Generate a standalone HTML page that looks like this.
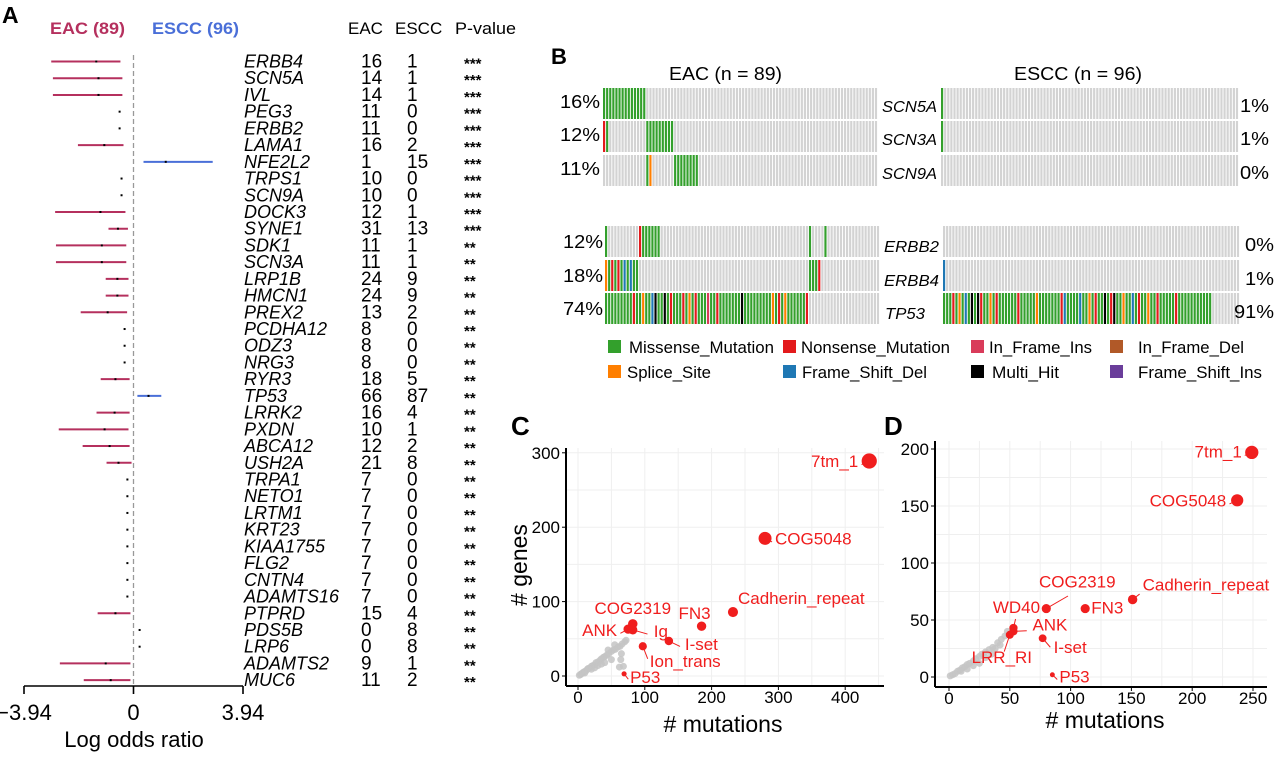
<!DOCTYPE html>
<html><head><meta charset="utf-8"><style>
html,body{margin:0;padding:0;background:#fff;}
svg{display:block;font-family:"Liberation Sans",sans-serif;}
</style></head><body>
<svg id="fig" width="1280" height="773" viewBox="0 0 1280 773" xmlns="http://www.w3.org/2000/svg">
<g id="pa">
<text x="2" y="23" font-size="23" font-weight="bold">A</text>
<text x="50" y="34" font-size="17" font-weight="bold" fill="#b5305e" textLength="75" lengthAdjust="spacingAndGlyphs">EAC (89)</text>
<text x="152" y="34" font-size="17" font-weight="bold" fill="#4a6fd8" textLength="87" lengthAdjust="spacingAndGlyphs">ESCC (96)</text>
<text x="348" y="34" font-size="17">EAC</text>
<text x="395" y="34" font-size="17">ESCC</text>
<text x="455" y="34" font-size="17" textLength="61" lengthAdjust="spacingAndGlyphs">P-value</text>
<line x1="133.5" y1="55" x2="133.5" y2="686" stroke="#999" stroke-width="1.3" stroke-dasharray="5,3"/>
<line x1="24" y1="686" x2="243" y2="686" stroke="#000" stroke-width="1.6"/>
<text x="134" y="747" font-size="22" text-anchor="middle">Log odds ratio</text>
</g>
<g id="pb">
<text x="551" y="64" font-size="22" font-weight="bold">B</text>
<text x="669" y="80" font-size="18" textLength="113" lengthAdjust="spacingAndGlyphs">EAC (n = 89)</text>
<text x="1014" y="80" font-size="18" textLength="128" lengthAdjust="spacingAndGlyphs">ESCC (n = 96)</text>
</g>
<g id="pc">
<text x="511" y="435" font-size="26" font-weight="bold">C</text>
<text x="723" y="732" font-size="23" text-anchor="middle"># mutations</text>
<text x="527" y="565" font-size="23" text-anchor="middle" transform="rotate(-90 527 565)"># genes</text>
</g>
<g id="pd">
<text x="884" y="435" font-size="26" font-weight="bold">D</text>
<text x="1105" y="728" font-size="23" text-anchor="middle"># mutations</text>
</g>
</svg>
<script>
var NS="http://www.w3.org/2000/svg";
function mk(tag,attrs,parent,txt){var e=document.createElementNS(NS,tag);for(var k in attrs)e.setAttribute(k,attrs[k]);if(txt!==undefined)e.textContent=txt;parent.appendChild(e);return e;}

/* ---------- Panel A data ---------- */
var genes=["ERBB4","SCN5A","IVL","PEG3","ERBB2","LAMA1","NFE2L2","TRPS1","SCN9A","DOCK3","SYNE1","SDK1","SCN3A","LRP1B","HMCN1","PREX2","PCDHA12","ODZ3","NRG3","RYR3","TP53","LRRK2","PXDN","ABCA12","USH2A","TRPA1","NETO1","LRTM1","KRT23","KIAA1755","FLG2","CNTN4","ADAMTS16","PTPRD","PDS5B","LRP6","ADAMTS2","MUC6"];
var eacCounts=[16,14,14,11,11,16,1,10,10,12,31,11,11,24,24,13,8,8,8,18,66,16,10,12,21,7,7,7,7,7,7,7,7,15,0,0,9,11];
var esccCounts=[1,1,1,0,0,2,15,0,0,1,13,1,1,9,9,2,0,0,0,5,87,4,1,2,8,0,0,0,0,0,0,0,0,4,8,8,1,2];
var pStars=["***","***","***","***","***","***","***","***","***","***","***","**","**","**","**","**","**","**","**","**","**","**","**","**","**","**","**","**","**","**","**","**","**","**","**","**","**","**"];
var logOR=[-1.34,-1.26,-1.26,-0.5,-0.5,-1.05,1.16,-0.43,-0.43,-1.19,-0.56,-1.14,-1.14,-0.58,-0.58,-0.93,-0.32,-0.32,-0.32,-0.65,0.54,-0.68,-1.04,-0.86,-0.54,-0.22,-0.22,-0.22,-0.22,-0.22,-0.22,-0.22,-0.22,-0.65,0.22,0.22,-1.0,-0.82];
var ciLow=[-2.96,-2.9,-2.9,-0.5,-0.5,-2.0,0.36,-0.43,-0.43,-2.82,-0.9,-2.79,-2.79,-1.0,-1.0,-1.9,-0.32,-0.32,-0.32,-1.18,0.14,-1.33,-2.69,-1.83,-0.97,-0.22,-0.22,-0.22,-0.22,-0.22,-0.22,-0.22,-0.22,-1.29,0.22,0.22,-2.65,-1.79];
var ciHigh=[-0.47,-0.4,-0.4,-0.5,-0.5,-0.36,2.85,-0.43,-0.43,-0.29,-0.2,-0.26,-0.26,-0.18,-0.18,-0.23,-0.32,-0.32,-0.32,-0.14,1.0,-0.14,-0.18,-0.14,-0.07,-0.22,-0.22,-0.22,-0.22,-0.22,-0.22,-0.22,-0.22,-0.11,0.22,0.22,-0.11,-0.11];
var xTicksA=[-3.94,0,3.94];
var xTickLabelsA=["\u22123.94","0","3.94"];

var pa=document.getElementById("pa");
function ax(v){return 133.5+v*(109.5/3.94);}
function ay(i){return 61.5+i*16.72;}
xTicksA.forEach(function(t,i){
  var tk=mk("line",{x1:ax(t),y1:686,x2:ax(t),y2:694,stroke:"#000","stroke-width":1.6},pa);
  
  
  var tl=mk("text",{x:ax(t),y:720,"font-size":22,"text-anchor":"middle"},pa,xTickLabelsA[i]);
  
  
});
genes.forEach(function(g,i){
  var y=ay(i);
  var col=logOR[i]>0?"#4a6fd8":"#b5305e";
  if(ciHigh[i]-ciLow[i]>0.01){
    var ln=mk("line",{x1:ax(ciLow[i]),y1:y,x2:ax(ciHigh[i]),y2:y,stroke:col,"stroke-width":2},pa);
    
    
  }
  var pt=mk("rect",{x:ax(logOR[i])-1,y:y-1,width:2,height:2,fill:"#000"},pa);
  
  
  var gt=mk("text",{x:244,y:y+6,"font-size":18,"font-style":"italic"},pa,g);
  
  
  var e=mk("text",{x:361,y:y+6,"font-size":19},pa,String(eacCounts[i]));
  
  
  var s=mk("text",{x:407,y:y+6,"font-size":19},pa,String(esccCounts[i]));
  
  
  var p=mk("text",{x:464,y:y+7,"font-size":15,"font-weight":"bold"},pa,pStars[i]);
  
  
});

/* ---------- Panel B data ---------- */
var colors={G:"#33a02c",R:"#e31a1c",P:"#d93b5a",B:"#b15928",O:"#ff7f00",F:"#1f78b4",K:"#000000",V:"#6a3d9a"};
var legendNames=["Missense_Mutation","Nonsense_Mutation","In_Frame_Ins","In_Frame_Del","Splice_Site","Frame_Shift_Del","Multi_Hit","Frame_Shift_Ins"];
var legendCodes=["G","R","P","B","O","F","K","V"];
var topGenes=["SCN5A","SCN3A","SCN9A"];
var topEacPct=["16%","12%","11%"];
var topEsccPct=["1%","1%","0%"];
var botGenes=["ERBB2","ERBB4","TP53"];
var botEacPct=["12%","18%","74%"];
var botEsccPct=["0%","1%","91%"];
var eacSCN5A="GGGGGGGGGGGGGG";
var eacSCN3A="RG............GGGGGGGGG";
var eacSCN9A="..............GO.......GGGGGGGG";
var eacERBB2="G..........RGGGGGG................................................G....G";
var eacERBB4="OGRGRGFGFGG.......................................................GGGR";
var eacTP53="GGGGGGGGGRGGOGGFKGGKGRGGGRGOGRGGGPGGRGGGGGGGKGGGGGGGGGOGRGOGGGGGGR";
var esccSCN5A="G";
var esccSCN3A="G";
var esccSCN9A="";
var esccERBB2="";
var esccERBB4="F";
var esccTP53="GGGRGOGFGKGKRGGOGRGGGGGGRGGGGGOGGGGGGGRFGGGGFGGOGRGGKGRKGGOGGFGRGGOGGRGGGGGRGGGGGGGGGGG";
var pb=document.getElementById("pb");
function drawTrack(x0,y0,w,h,n,codes,name){
  var cw=w/n;
  for(var c=0;c<n;c++){
    var ch=codes.charAt(c);
    var r=mk("rect",{x:(x0+c*cw).toFixed(2),y:y0,width:(cw*0.7).toFixed(2),height:h,fill:(ch&&colors[ch])?colors[ch]:"#d3d3d3"},pb);
    
    
  }
}
var topY=[88,121,155], botY=[226,260,293], rowH=31;
var topEac=[eacSCN5A,eacSCN3A,eacSCN9A], topEscc=[esccSCN5A,esccSCN3A,esccSCN9A];
var botEac=[eacERBB2,eacERBB4,eacTP53], botEscc=[esccERBB2,esccERBB4,esccTP53];
for(var i=0;i<3;i++){
  drawTrack(603,topY[i],275,rowH,89,topEac[i],'eac-'+topGenes[i].toLowerCase());
  drawTrack(941,topY[i],298,rowH,96,topEscc[i],'escc-'+topGenes[i].toLowerCase());
  drawTrack(605,botY[i],275,rowH,89,botEac[i],'eac-'+botGenes[i].toLowerCase());
  drawTrack(943,botY[i],297,rowH,96,botEscc[i],'escc-'+botGenes[i].toLowerCase());
  var a=mk("text",{x:600,y:topY[i]+20,"font-size":18,"text-anchor":"end",textLength:40,lengthAdjust:"spacingAndGlyphs"},pb,topEacPct[i]);
  
  
  var b=mk("text",{x:1269,y:topY[i]+24,"font-size":18,"text-anchor":"end",textLength:29,lengthAdjust:"spacingAndGlyphs"},pb,topEsccPct[i]);
  
  
  var c=mk("text",{x:882,y:topY[i]+24,"font-size":16,"font-style":"italic",textLength:55,lengthAdjust:"spacingAndGlyphs"},pb,topGenes[i]);
  
  
  var d=mk("text",{x:603,y:botY[i]+22,"font-size":18,"text-anchor":"end",textLength:40,lengthAdjust:"spacingAndGlyphs"},pb,botEacPct[i]);
  
  
  var e2=mk("text",{x:1274,y:botY[i]+25,"font-size":18,"text-anchor":"end",textLength:i==2?40:29,lengthAdjust:"spacingAndGlyphs"},pb,botEsccPct[i]);
  
  
  var f=mk("text",{x:i==2?885:884,y:botY[i]+26,"font-size":16,"font-style":"italic",textLength:i==2?40:55,lengthAdjust:"spacingAndGlyphs"},pb,botGenes[i]);
  
  
}
var legX=[608,783,971,1110,608,783,971,1110], legTX=[629,801,989,1138,627,802,992,1138];
var legW=[145,149,103,106,84,125,67,124];
legendNames.forEach(function(nm,i){
  var y=i<4?340:365;
  var sq=mk("rect",{x:legX[i],y:y,width:13,height:13,fill:colors[legendCodes[i]]},pb);
  
  
  var t=mk("text",{x:legTX[i],y:y+13,"font-size":17,textLength:legW[i],lengthAdjust:"spacingAndGlyphs"},pb,nm);
  
  
});

/* ---------- Panel C data ---------- */
var cLabels=["7tm_1","COG5048","Cadherin_repeat","FN3","COG2319","ANK","Ig","I-set","Ion_trans","P53"];
var cMut=[436,280,232,185,82,75,82,136,97,69];
var cGenes=[289,185,86,67,70,63,62,47,40,3];
var cLab=[[-11,6,"end"],[10,6,"start"],[5,-8,"start"],[-7,-7,"middle"],[0,-10,"middle"],[-11,7,"end"],[21,7,"start"],[16,9,"start"],[7,21,"start"],[6,9,"start"]];
var cGrayMut=[2,4,5,7,8,10,12,14,15,18,20,22,25,27,30,33,35,38,40,43,46,50,53,56,60,63,66,70,72,65,50,40,30,20,10,64,62,45,55,68,35,25];
var cGrayGenes=[1,2,3,4,5,6,7,9,10,11,13,14,15,18,19,21,23,25,26,28,30,33,35,36,39,40,43,46,48,30,22,18,14,9,4,22,12,35,42,13,16,11];
var cXTicks=[0,100,200,300,400], cYTicks=[0,100,200,300];

/* ---------- Panel D data ---------- */
var dLabels=["7tm_1","COG5048","Cadherin_repeat","FN3","COG2319","WD40","ANK","LRR_RI","I-set","P53"];
var dMut=[249,237,151,112,80,53,53,50,77,85];
var dGenes=[197,155,68,60,60,43,40,37,34,2];
var dLab=[[-10,5,"end"],[-11,6,"end"],[10,-9,"start"],[6,5,"start"],[31,-21,"middle"],[3,-15,"middle"],[19,-1,"start"],[-8,28,"middle"],[11,15,"start"],[7,8,"start"]];
var dGrayMut=[1,3,5,7,9,11,13,15,17,20,22,25,27,30,33,36,40,43,46,48,20,15,10,30,35,25,42,38];
var dGrayGenes=[1,2,3,5,6,8,9,11,12,14,16,18,20,22,24,26,30,33,36,40,10,7,5,17,20,12,28,25];
var dXTicks=[0,50,100,150,200,250], dYTicks=[0,50,100,150,200];

function scatter(g,pfx,xl,xr,x0px,xPer,ytop,ybot,y0px,yPer,xT,yT,gm,gg,lab,mut,gen,off,xMaxV,yMaxV){
  function sx(v){return x0px+v*xPer;}
  function sy(v){return y0px-v*yPer;}
  for(var v=0;v<=xMaxV;v+=(xT[1]-xT[0])/2){var gl=mk("line",{x1:sx(v),y1:ytop,x2:sx(v),y2:ybot,stroke:"#efefef","stroke-width":1},g);}
  for(var w=0;w<=yMaxV;w+=(yT[1]-yT[0])/2){var gl2=mk("line",{x1:xl,y1:sy(w),x2:xr,y2:sy(w),stroke:"#efefef","stroke-width":1},g);}
  var xa=mk("line",{x1:xl,y1:ybot,x2:xr,y2:ybot,stroke:"#000","stroke-width":2},g);
  
  
  var ya=mk("line",{x1:xl,y1:ytop,x2:xl,y2:ybot,stroke:"#000","stroke-width":2},g);
  
  
  xT.forEach(function(t){
    var tk=mk("line",{x1:sx(t),y1:ybot,x2:sx(t),y2:ybot+4,stroke:"#000"},g);
    
    
    var tl=mk("text",{x:sx(t),y:ybot+17,"font-size":17,"text-anchor":"middle"},g,String(t));
    
    
  });
  yT.forEach(function(t){
    var tk=mk("line",{x1:xl-4,y1:sy(t),x2:xl,y2:sy(t),stroke:"#000"},g);
    
    
    var tl=mk("text",{x:xl-6,y:sy(t)+6,"font-size":17,"text-anchor":"end"},g,String(t));
    
    
  });
  gm.forEach(function(m,i){
    var c=mk("circle",{cx:sx(m),cy:sy(gg[i]),r:3.5,fill:"#c4c4c4","fill-opacity":0.85},g);
    
    
  });
  lab.forEach(function(nm,i){
    var px=sx(mut[i]), py=sy(gen[i]);
    var r=2+Math.sqrt(gen[i])*0.33;
    var c=mk("circle",{cx:px,cy:py,r:r.toFixed(2),fill:"#f01e1e"},g);
    
    
    var o=off[i];
    if(Math.abs(o[0])+Math.abs(o[1])>14){
      var ld=mk("line",{x1:px,y1:py,x2:px+o[0]*0.7,y2:py+o[1]*0.6,stroke:"#f01e1e","stroke-width":1},g);
      
      
    }
    var t=mk("text",{x:px+o[0],y:py+o[1],"font-size":17,fill:"#f01e1e","text-anchor":o[2]},g,nm);
    
    
  });
}
scatter(document.getElementById("pc"),"c",566,884,578,0.668,448,686,676,0.744,cXTicks,cYTicks,cGrayMut,cGrayGenes,cLabels,cMut,cGenes,cLab,450,310);
scatter(document.getElementById("pd"),"d",935,1267,949,1.216,441,687,677,1.14,dXTicks,dYTicks,dGrayMut,dGrayGenes,dLabels,dMut,dGenes,dLab,260,205);
</script>
</body></html>
